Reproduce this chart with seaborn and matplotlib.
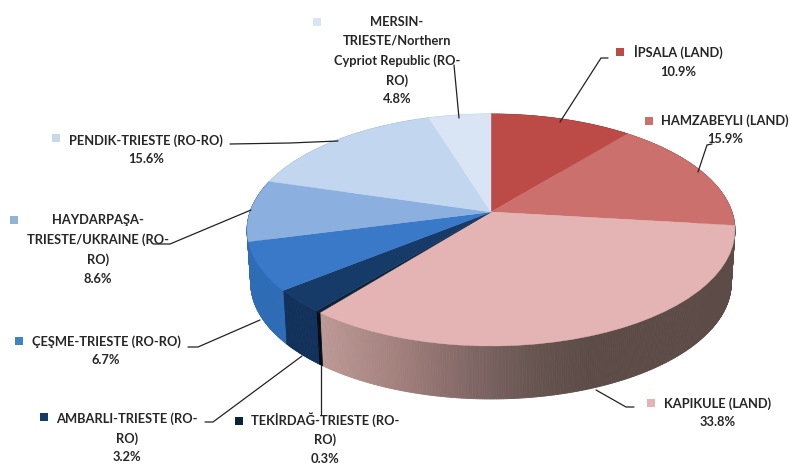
import numpy as np
import matplotlib
matplotlib.use("Agg")
import matplotlib.pyplot as plt
from matplotlib.collections import PolyCollection
from matplotlib.colors import to_rgb
from matplotlib.transforms import Transform
import seaborn as sns

# ---- data
names = ["İPSALA (LAND)", "HAMZABEYLI (LAND)", "KAPIKULE (LAND)",
         "TEKİRDAĞ-TRIESTE (RO-\nRO)", "AMBARLI-TRIESTE (RO-\nRO)",
         "ÇEŞME-TRIESTE (RO-RO)", "HAYDARPAŞA-\nTRIESTE/UKRAINE (RO-\nRO)",
         "PENDIK-TRIESTE (RO-RO)",
         "MERSIN-\nTRIESTE/Northern\nCypriot Republic (RO-\nRO)"]
shares = [10.9, 15.9, 33.8, 0.3, 3.2, 6.7, 8.6, 15.6, 4.8]

# ---- styles
top_colors = ["#bc4b48", "#cb706c", "#e3b4b3", "#0c2238", "#173b69",
              "#3a78c8", "#8bb0e0", "#c2d7ef", "#d9e5f4"]
side_colors = ["#8a3532", "#9a4f4c", "#5c4b47", "#050c16", "#11305a",
               "#2f6cb6", "#2f6cb6", "#9db5d5", "#b5c5dc"]
key_colors = ["#bc4b48", "#cb706c", "#e3b4b3", "#0c2238", "#173b69",
              "#3f83c4", "#8fb4d6", "#c8d8e8", "#d9e5f0"]
grad_x = [318, 400, 470, 540, 590, 740]
grad_c = ["#bd9a96", "#a17f7c", "#806765", "#655350", "#5c4b47", "#5c4b47"]

# label layout in pixels
label_x = [678, 725, 718, 325, 127, 106, 98, 146, 397]
label_y = [45, 114, 397, 412, 412, 335, 214, 134, 16]
key_x = [620, 649, 651, 239, 44, 19, 14, 56, 317]
key_y = [52, 121, 403, 424, 417, 341, 220, 138, 22]
leaders = [[(608, 58), (601, 58), (560, 122)],
           [(712, 144), (707, 145), (698, 172)],
           [(634, 407), (626, 407), (596, 390)],
           [(321, 415), (321, 365)],
           [(205, 422), (213, 422), (302, 356)],
           [(188, 347), (198, 347), (260, 320)],
           [(153, 244), (170, 244), (251, 210)],
           [(230, 144), (290, 143), (338, 141)],
           [(454, 65), (459, 118)]]

CX, AY, RX, RY, K = 491.0, 212.0, 241.0, 113.2, 0.155
DEPTH, SHRINK = 53.0, 0.015


def project(u, v, z=0.0):
    w = 1 + K * v
    return CX + RX * u / w * (1 - SHRINK * z), AY - RY * v / w + DEPTH * z


class Disc(Transform):
    input_dims = output_dims = 2
    has_inverse = False
    is_affine = False

    def transform_non_affine(self, xy):
        xy = np.asarray(xy, float)
        x, y = project(xy[:, 0], xy[:, 1])
        return np.column_stack([x, y])


sns.set_theme(style="white")
plt.rcParams["font.family"] = ["Lato", "DejaVu Sans"]
fig, ax = plt.subplots(figsize=(7.9, 4.66), dpi=100)
ax.set_position([0, 0, 1, 1])
palette = sns.color_palette(top_colors, len(top_colors))

wedges, _ = ax.pie(shares, colors=palette, startangle=90, counterclock=False)
ax.set_aspect("auto")
ax.set_xlim(0, 790)
ax.set_ylim(466, 0)
ax.axis("off")

# extruded rim, built from the share of each slice
disc = Disc()
edges = np.concatenate([[0], np.cumsum(shares)]) / sum(shares) * 2 * np.pi
polys, cols = [], []
for i in range(len(shares)):
    n = max(2, int((edges[i + 1] - edges[i]) * 120))
    th = np.linspace(edges[i], edges[i + 1], n + 1)
    for a, b in zip(th[:-1], th[1:]):
        x0, y0 = project(np.sin(a), np.cos(a))
        x1, y1 = project(np.sin(b), np.cos(b))
        x2, y2 = project(np.sin(b), np.cos(b), 1)
        x3, y3 = project(np.sin(a), np.cos(a), 1)
        polys.append([(x0, y0), (x1, y1), (x2, y2), (x3, y3)])
        if i == 2:
            mid = (x0 + x1) / 2
            rgb = np.array([to_rgb(c) for c in grad_c])
            cols.append([np.interp(mid, grad_x, rgb[:, j]) for j in range(3)])
        else:
            cols.append(to_rgb(side_colors[i]))
rim = PolyCollection(polys, facecolors=cols, edgecolors=cols, linewidths=0.6, zorder=1)
ax.add_collection(rim)

for w in wedges:
    w.set_transform(disc + ax.transData)
    w.set_edgecolor(w.get_facecolor())
    w.set_linewidth(0.3)
    w.set_zorder(2)
    w.set_clip_on(False)

# labels, keys, leader lines
for i, name in enumerate(names):
    ax.text(label_x[i], label_y[i], f"{name}\n{shares[i]:.1f}%", ha="center", va="top",
            fontsize=9.3, fontweight="bold", color="#262626", linespacing=1.68, zorder=5)
    ax.scatter([key_x[i]], [key_y[i] - (3 if i == 3 else 0)], marker="s", s=36,
               color=key_colors[i], linewidths=0, zorder=5)
    xs, ys = zip(*leaders[i])
    ax.plot(xs, ys, color="#222222", lw=0.9, zorder=6, solid_joinstyle="miter")

fig.savefig("out.png", dpi=100, facecolor="white")
